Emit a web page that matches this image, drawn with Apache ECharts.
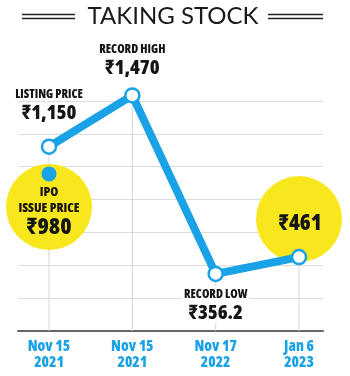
<!DOCTYPE html>
<html><head><meta charset="utf-8">
<script src="https://cdn.jsdelivr.net/npm/echarts@6/dist/echarts.min.js"></script>
<style>html,body{margin:0;padding:0;background:#fff}#c{width:350px;height:376px}</style>
</head><body><div id="c"></div>
<script>
// ---- data ----
const categories = ['Nov 15\n2021', 'Nov 15\n2021', 'Nov 17\n2022', 'Jan 6\n2023'];
const prices = [1150, 1470, 356.2, 461];
const captions = ['LISTING PRICE', 'RECORD HIGH', 'RECORD LOW', ''];
const amountLabels = ['₹1,150', '₹1,470', '₹356.2', '₹461'];
const ipoPrice = 980;
const ipoLabel = ['IPO', 'ISSUE PRICE', '₹980'];
const yMin = 0, yMax = 1435, yInterval = 205;
const titleText = 'TAKING STOCK';

// ---- styles ----
const BLUE = '#1aa2e6', YELLOW = '#f8e71c', INK = '#151515';
const CW = '800 condensed';           // condensed heavy face
const CF = '"Open Sans", "Roboto Condensed", sans-serif';
const labelPos = [
  { position: 'top', distance: 15, backgroundColor: 'transparent' },
  { position: 'top', distance: 9, backgroundColor: 'transparent' },
  { position: 'bottom', distance: 3, backgroundColor: '#fff' },
  { show: false }
];
const rich = {
  c: { fontFamily: CF, fontWeight: CW, fontSize: 12, lineHeight: 18, color: INK, align: 'center' },
  a: { fontFamily: CF, fontWeight: CW, fontSize: 20, lineHeight: 20, color: INK, align: 'center' }
};

const chart = echarts.init(document.getElementById('c'), null, { renderer: 'canvas' });
chart.setOption({
  animation: false,
  grid: [
    { left: 49, right: 51, top: 101, bottom: 45 },
    { left: 18, right: 27, top: 101, bottom: 45 }
  ],
  xAxis: [
    { gridIndex: 0, type: 'category', boundaryGap: false, data: categories,
      axisLine: { show: false }, axisTick: { show: false }, splitLine: { show: false },
      axisLabel: { color: BLUE, fontFamily: CF, fontWeight: CW, fontSize: 15, lineHeight: 16, margin: 8, interval: 0 } },
    { gridIndex: 1, type: 'value', min: 0, max: 1,
      axisLine: { show: true, lineStyle: { color: '#666', width: 2 } },
      axisTick: { show: false }, axisLabel: { show: false }, splitLine: { show: false } }
  ],
  yAxis: [
    { gridIndex: 0, type: 'value', min: yMin, max: yMax, show: false },
    { gridIndex: 1, type: 'value', min: yMin, max: yMax, interval: yInterval,
      axisLine: { show: false }, axisTick: { show: false }, axisLabel: { show: false },
      splitLine: { show: true, lineStyle: { color: '#dcdcdc', width: 1 } } }
  ],
  series: [
    { type: 'bar', xAxisIndex: 0, yAxisIndex: 0, barWidth: 1, silent: true, z: 1,
      itemStyle: { color: '#d4d4d4' }, data: prices },
    { type: 'scatter', xAxisIndex: 0, yAxisIndex: 0, z: 2, silent: true,
      symbol: 'circle', symbolSize: 86, symbolOffset: [0, -38],
      itemStyle: { color: YELLOW, opacity: 1 },
      label: { show: true, position: 'inside', offset: [1, 5], formatter: () => '{a|' + amountLabels[3] + '}',
        rich: { a: Object.assign({}, rich.a, { fontSize: 22 }) } },
      data: [[3, prices[3]]] },
    { type: 'scatter', xAxisIndex: 0, yAxisIndex: 0, z: 2, silent: true,
      symbol: 'circle', symbolSize: 86, symbolOffset: [0, 33],
      itemStyle: { color: YELLOW, opacity: 1 },
      label: { show: true, position: 'inside', offset: [0, 5],
        formatter: () => '{c|' + ipoLabel[0] + '}\n{c|' + ipoLabel[1] + '}\n{a|' + ipoLabel[2] + '}',
        rich: { c: Object.assign({}, rich.c, { fontSize: 13, lineHeight: 16 }),
                a: Object.assign({}, rich.a, { fontSize: 23, lineHeight: 24 }) } },
      data: [[0, ipoPrice]] },
    { type: 'line', xAxisIndex: 0, yAxisIndex: 0, z: 3, clip: false, silent: true,
      symbol: 'circle', symbolSize: 14,
      lineStyle: { color: BLUE, width: 8 },
      itemStyle: { color: '#fff', borderColor: BLUE, borderWidth: 2.5 },
      label: { show: true, padding: [0, 2, 0, 2],
        formatter: (p) => '{c|' + captions[p.dataIndex] + '}\n{a|' + amountLabels[p.dataIndex] + '}', rich: rich },
      data: prices.map((v, i) => ({ value: v, label: labelPos[i] })) },
    { type: 'scatter', xAxisIndex: 0, yAxisIndex: 0, z: 4, silent: true,
      symbol: 'circle', symbolSize: 15, itemStyle: { color: BLUE, opacity: 1 },
      data: [[0, ipoPrice]] }
  ],
  graphic: [
    { type: 'text', z: 10, style: { text: titleText, x: 173, y: 4, align: 'center', verticalAlign: 'top',
        font: '400 24px Lato, "Open Sans", sans-serif', fill: '#1a1a1a' } },
    { type: 'line', shape: { x1: 22, y1: 14.5, x2: 75, y2: 14.5 }, style: { stroke: '#222', lineWidth: 1.5 } },
    { type: 'line', shape: { x1: 22, y1: 18.5, x2: 75, y2: 18.5 }, style: { stroke: '#222', lineWidth: 1.5 } },
    { type: 'line', shape: { x1: 268, y1: 14.5, x2: 323, y2: 14.5 }, style: { stroke: '#222', lineWidth: 1.5 } },
    { type: 'line', shape: { x1: 268, y1: 18.5, x2: 323, y2: 18.5 }, style: { stroke: '#222', lineWidth: 1.5 } }
  ]
});
</script>
</body></html>
